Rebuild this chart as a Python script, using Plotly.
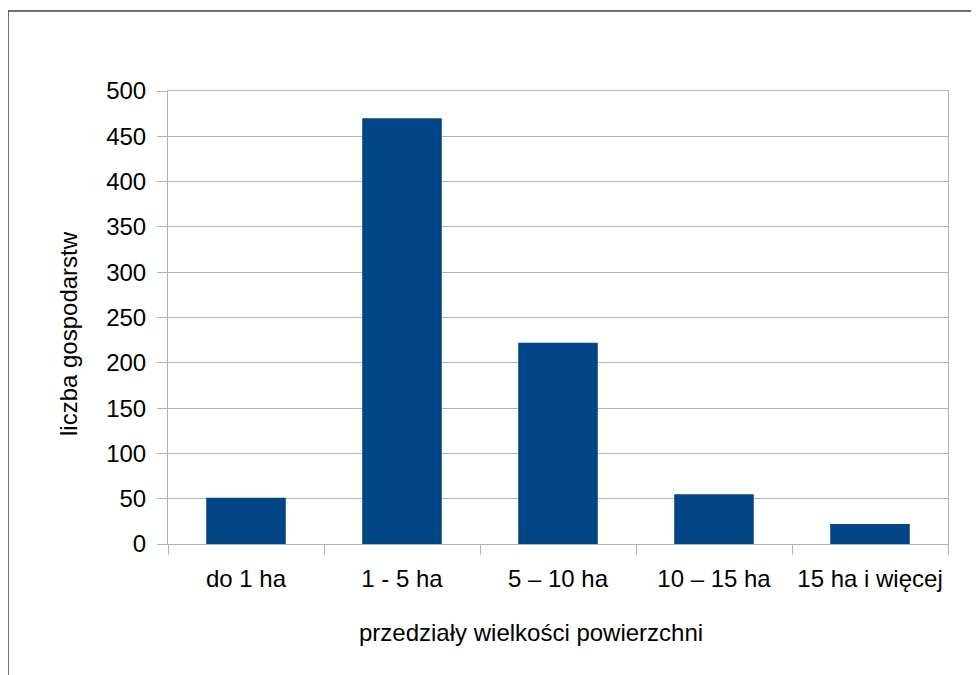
import plotly.graph_objects as go

categories = ["do 1 ha", "1 - 5 ha", "5 – 10 ha", "10 – 15 ha", "15 ha i więcej"]
values = [51, 470, 222, 55, 22]
y_ticks = [0, 50, 100, 150, 200, 250, 300, 350, 400, 450, 500]
x_title = "przedziały wielkości powierzchni"
y_title = "liczba gospodarstw"

FONT = "Liberation Sans, Arial, sans-serif"
GRID = "#b3b3b3"

fig = go.Figure()
fig.add_trace(go.Bar(x=categories, y=values, marker=dict(color="#004586", line=dict(width=0)),
                     width=0.51))

# page body has an 8px margin, so figure coords = window coords - 8
W, H = 979, 675
L, T = 160, 83
R = W - 940
B = H - 536
pw, ph = W - L - R, H - T - B

fig.update_layout(
    width=W, height=H,
    margin=dict(l=L, r=R, t=T, b=B, pad=0),
    paper_bgcolor="white", plot_bgcolor="white",
    showlegend=False,
    font=dict(family=FONT, color="black"),
    xaxis=dict(
        type="category", tickson="boundaries",
        showline=True, linecolor=GRID, linewidth=1, mirror=True,
        ticks="outside", ticklen=10, tickcolor=GRID, tickwidth=1,
        showgrid=False,
        tickfont=dict(size=24, family=FONT, color="black"),
        ticklabelstandoff=13,
    ),
    yaxis=dict(
        range=[0, 500], tickvals=y_ticks,
        showline=True, linecolor=GRID, linewidth=1, mirror=True,
        ticks="outside", ticklen=10, tickcolor=GRID, tickwidth=1,
        showgrid=True, gridcolor=GRID, gridwidth=1,
        zeroline=False,
        tickfont=dict(size=24, family=FONT, color="black"),
        ticklabelstandoff=6,
    ),
)

# axis titles (placed as in the reference, slightly off-centre)
fig.add_annotation(text=x_title, xref="paper", yref="paper",
                   x=(531 - 168) / pw, y=(544 - 632) / ph,
                   xanchor="center", yanchor="middle", showarrow=False,
                   font=dict(size=24, family=FONT, color="black"))
fig.add_annotation(text=y_title, xref="paper", yref="paper",
                   x=(68 - 168) / pw, y=(544 - 334) / ph, textangle=-90,
                   xanchor="center", yanchor="middle", showarrow=False,
                   font=dict(size=24, family=FONT, color="black"))

# outer chart border (extends beyond the visible window on right and bottom)
fig.add_shape(type="rect", xref="paper", yref="paper",
              x0=-L / pw, x1=(W + 20 - L) / pw,
              y0=-(B + 20) / ph, y1=(H - B - 3) / ph,
              line=dict(color="#444444", width=1.5), fillcolor="rgba(0,0,0,0)", layer="below")

fig.write_html("out.html")
